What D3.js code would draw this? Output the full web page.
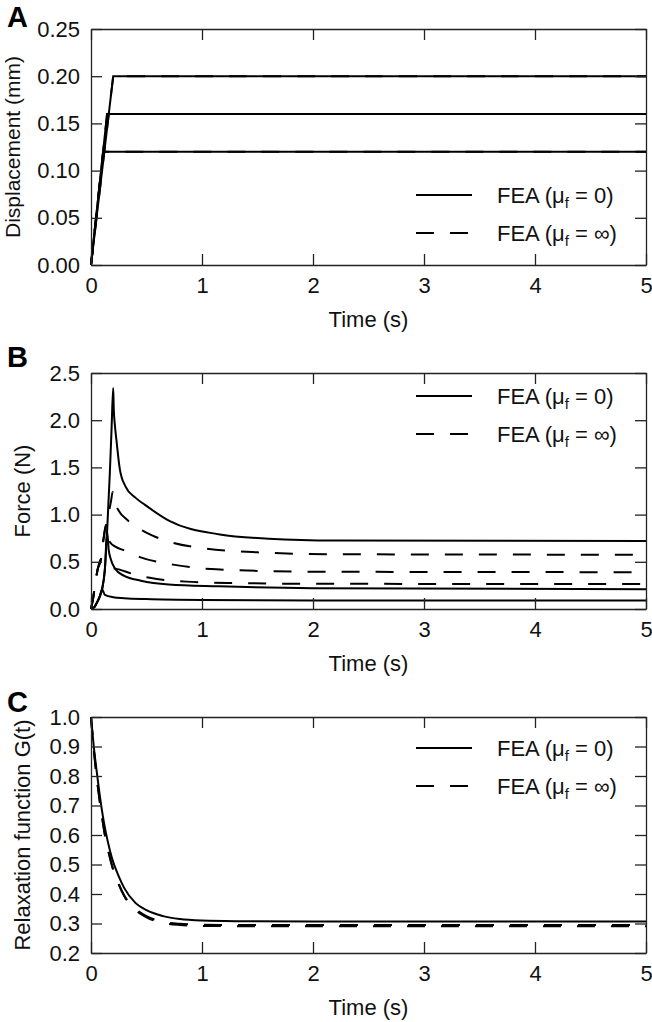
<!DOCTYPE html>
<html><head><meta charset="utf-8">
<script src="https://cdn.jsdelivr.net/npm/d3@7"></script>
<style>
html,body{margin:0;padding:0;background:#fff;}
svg{display:block;font-family:"Liberation Sans",Arial,Helvetica,sans-serif;}
</style></head>
<body><svg id="chart" width="652" height="1022"></svg>
<script>
// ---------- shared ----------
const timeTicks = [0, 1, 2, 3, 4, 5];
const legendLabels = ["0", "∞"];

// ---------- Panel A: displacement (mm) ----------
const dispTicks = [0, 0.05, 0.10, 0.15, 0.20, 0.25];
const dispT_a = [0, 0.11, 5];   const dispV_a = [0, 0.12, 0.12];
const dispT_b = [0, 0.145, 5];  const dispV_b = [0, 0.16, 0.16];
const dispT_c = [0, 0.2, 5];    const dispV_c = [0, 0.20, 0.20];

// ---------- Panel B: force (N) ----------
const forceTicks = [0, 0.5, 1.0, 1.5, 2.0, 2.5];
// mu_f = 0 (solid): shared loading path, then relaxation
const fSolidLoadT = [0, 0.03, 0.05, 0.075, 0.1, 0.125, 0.145, 0.17, 0.185, 0.2];
const fSolidLoadV = [0, 0.02, 0.06, 0.12, 0.21, 0.42, 0.82, 1.45, 1.9, 2.34];
const fSolid1T = [0.1, 0.125, 0.2, 0.3, 0.5, 1, 2, 5];
const fSolid1V = [0.21, 0.15, 0.125, 0.115, 0.105, 0.095, 0.09, 0.09];
const fSolid2T = [0.145, 0.16, 0.175, 0.215, 0.3, 0.45, 0.7, 1.15, 2, 5];
const fSolid2V = [0.82, 0.62, 0.54, 0.43, 0.35, 0.30, 0.26, 0.24, 0.22, 0.21];
const fSolid3T = [0.2, 0.205, 0.215, 0.23, 0.26, 0.31, 0.4, 0.49, 0.71, 1.16, 1.6, 2.2, 5];
const fSolid3V = [2.34, 2.12, 1.95, 1.78, 1.48, 1.30, 1.18, 1.10, 0.93, 0.79, 0.745, 0.725, 0.72];
// mu_f = inf (dashed)
const fDashLoadT = [0, 0.02, 0.04, 0.06, 0.09, 0.11, 0.135, 0.16, 0.18, 0.195];
const fDashLoadV = [0, 0.12, 0.28, 0.42, 0.53, 0.72, 0.89, 1.02, 1.14, 1.24];
const fDash1T = [0.09, 0.12, 0.18, 0.25, 0.38, 0.53, 0.86, 1.3, 2, 5];
const fDash1V = [0.53, 0.47, 0.44, 0.42, 0.37, 0.33, 0.29, 0.275, 0.267, 0.265];
const fDash2T = [0.135, 0.15, 0.17, 0.22, 0.3, 0.44, 0.74, 1.13, 2, 5];
const fDash2V = [0.89, 0.78, 0.71, 0.66, 0.62, 0.55, 0.47, 0.42, 0.395, 0.39];
const fDash3T = [0.195, 0.21, 0.25, 0.32, 0.41, 0.55, 0.71, 1.04, 1.5, 2.2, 5];
const fDash3V = [1.24, 1.15, 1.04, 0.95, 0.87, 0.78, 0.71, 0.64, 0.60, 0.58, 0.575];

// ---------- Panel C: relaxation function ----------
const relaxTicks = [0.2, 0.3, 0.4, 0.5, 0.6, 0.7, 0.8, 0.9, 1.0];
const gSolidT = [0, 0.025, 0.05, 0.075, 0.1, 0.125, 0.15, 0.19, 0.25, 0.3, 0.4, 0.5, 0.65, 0.8, 1.0, 1.3, 2, 3, 5];
const gSolidV = [1.0, 0.90, 0.82, 0.745, 0.68, 0.625, 0.58, 0.52, 0.46, 0.42, 0.37, 0.345, 0.325, 0.315, 0.310, 0.308, 0.307, 0.307, 0.307];
const gDashT = [0, 0.025, 0.05, 0.075, 0.1, 0.125, 0.15, 0.19, 0.25, 0.3, 0.4, 0.5, 0.65, 0.8, 1.0, 1.3, 2, 5];
const gDashV = [1.0, 0.89, 0.80, 0.725, 0.66, 0.60, 0.555, 0.495, 0.435, 0.395, 0.35, 0.325, 0.306, 0.299, 0.296, 0.295, 0.295, 0.295];
const gDash2V = [1.0, 0.89, 0.80, 0.725, 0.66, 0.60, 0.555, 0.495, 0.432, 0.392, 0.346, 0.321, 0.302, 0.295, 0.292, 0.291, 0.291, 0.291];

// ---------- helpers ----------
const zip = (T, V) => T.map((t, i) => [t, V[i]]);
const withLoad = (LT, LV, T, V) => zip(LT, LV).filter(d => d[0] < T[0]).concat(zip(T, V));

const svg = d3.select("#chart");
const left = 91, right = 646;
const x = d3.scaleLinear().domain([0, 5]).range([left, right]);
const FONT = 22;
const AX = "#222";
const DASH = "18,16";

const panels = [
  { letter: "A", top: 29, bottom: 265, domain: [0, 0.25], ticks: dispTicks, fmt: d3.format(".2f"),
    ylabel: "Displacement (mm)", ylabX: 20, ylabSize: 21, legendY: 195, curve: d3.curveLinear,
    solid: [zip(dispT_a, dispV_a), zip(dispT_b, dispV_b), zip(dispT_c, dispV_c)],
    dashed: [zip(dispT_a, dispV_a), zip(dispT_b, dispV_b), zip(dispT_c, dispV_c)], letterY: 27 },
  { letter: "B", top: 373, bottom: 609, domain: [0, 2.5], ticks: forceTicks, fmt: d3.format(".1f"),
    ylabel: "Force (N)", ylabX: 30, ylabSize: FONT, legendY: 396, curve: d3.curveMonotoneX,
    solid: [withLoad(fSolidLoadT, fSolidLoadV, fSolid1T, fSolid1V),
            withLoad(fSolidLoadT, fSolidLoadV, fSolid2T, fSolid2V),
            withLoad(fSolidLoadT, fSolidLoadV, fSolid3T, fSolid3V)],
    dashed: [withLoad(fDashLoadT, fDashLoadV, fDash1T, fDash1V),
             withLoad(fDashLoadT, fDashLoadV, fDash2T, fDash2V),
             withLoad(fDashLoadT, fDashLoadV, fDash3T, fDash3V)], letterY: 367 },
  { letter: "C", top: 717, bottom: 953, domain: [0.2, 1.0], ticks: relaxTicks, fmt: d3.format(".1f"),
    ylabel: "Relaxation function G(t)", ylabX: 30, ylabSize: FONT, legendY: 748, curve: d3.curveMonotoneX,
    solid: [zip(gSolidT, gSolidV)],
    dashed: [zip(gDashT, gDashV), zip(gDashT, gDash2V)], letterY: 712 }
];

panels.forEach(p => {
  const y = d3.scaleLinear().domain(p.domain).range([p.bottom, p.top]);
  const g = svg.append("g");

  // data lines
  const line = d3.line().x(d => x(d[0])).y(d => y(d[1])).curve(p.curve);
  p.solid.forEach(s => g.append("path").attr("d", line(s))
    .attr("fill", "none").attr("stroke", "#000").attr("stroke-width", 2)
    .attr("stroke-linejoin", "miter"));
  p.dashed.forEach(s => g.append("path").attr("d", line(s))
    .attr("fill", "none").attr("stroke", "#000").attr("stroke-width", 2)
    .attr("stroke-dasharray", DASH));

  // axes (inward ticks on all sides)
  const styleAxis = sel => {
    sel.selectAll(".domain").attr("stroke", AX).attr("stroke-width", 1.3);
    sel.selectAll(".tick line").attr("stroke", AX).attr("stroke-width", 1.3);
    sel.selectAll("text").attr("font-size", FONT).attr("fill", "#111")
      .attr("font-family", "Liberation Sans, Arial, sans-serif");
  };
  g.append("g").attr("transform", `translate(0,${p.bottom})`)
    .call(d3.axisBottom(x).tickValues(timeTicks).tickFormat(d3.format("d"))
      .tickSizeInner(-11).tickSizeOuter(0).tickPadding(12)).call(styleAxis);
  g.append("g").attr("transform", `translate(0,${p.top})`)
    .call(d3.axisTop(x).tickValues(timeTicks).tickFormat("")
      .tickSizeInner(-11).tickSizeOuter(0)).call(styleAxis);
  g.append("g").attr("transform", `translate(${left},0)`)
    .call(d3.axisLeft(y).tickValues(p.ticks).tickFormat(p.fmt)
      .tickSizeInner(-11).tickSizeOuter(0).tickPadding(11)).call(styleAxis);
  g.append("g").attr("transform", `translate(${right},0)`)
    .call(d3.axisRight(y).tickValues(p.ticks).tickFormat("")
      .tickSizeInner(-11).tickSizeOuter(0)).call(styleAxis);

  // x label
  g.append("text").attr("x", (left + right) / 2).attr("y", p.bottom + 62)
    .attr("text-anchor", "middle").attr("font-size", FONT).attr("fill", "#111")
    .text("Time (s)");
  // y label
  g.append("text")
    .attr("transform", `translate(${p.ylabX},${(p.top + p.bottom) / 2}) rotate(-90)`)
    .attr("text-anchor", "middle").attr("font-size", p.ylabSize).attr("fill", "#111")
    .text(p.ylabel);
  // panel letter
  g.append("text").attr("x", 7).attr("y", p.letterY)
    .attr("font-size", 29).attr("font-weight", "bold").attr("fill", "#000")
    .text(p.letter);

  // legend
  legendLabels.forEach((lab, i) => {
    const ly = p.legendY + i * 38;
    g.append("line").attr("x1", 416).attr("x2", 472).attr("y1", ly).attr("y2", ly)
      .attr("stroke", "#000").attr("stroke-width", 2)
      .attr("stroke-dasharray", i === 0 ? null : DASH);
    const t = g.append("text").attr("x", 497).attr("y", ly + 8)
      .attr("font-size", FONT).attr("fill", "#111");
    t.append("tspan").text("FEA (μ");
    t.append("tspan").attr("font-size", 15).attr("dy", 5).text("f");
    t.append("tspan").attr("dy", -5).text(" = " + lab + ")");
  });
});
</script>
</body></html>
